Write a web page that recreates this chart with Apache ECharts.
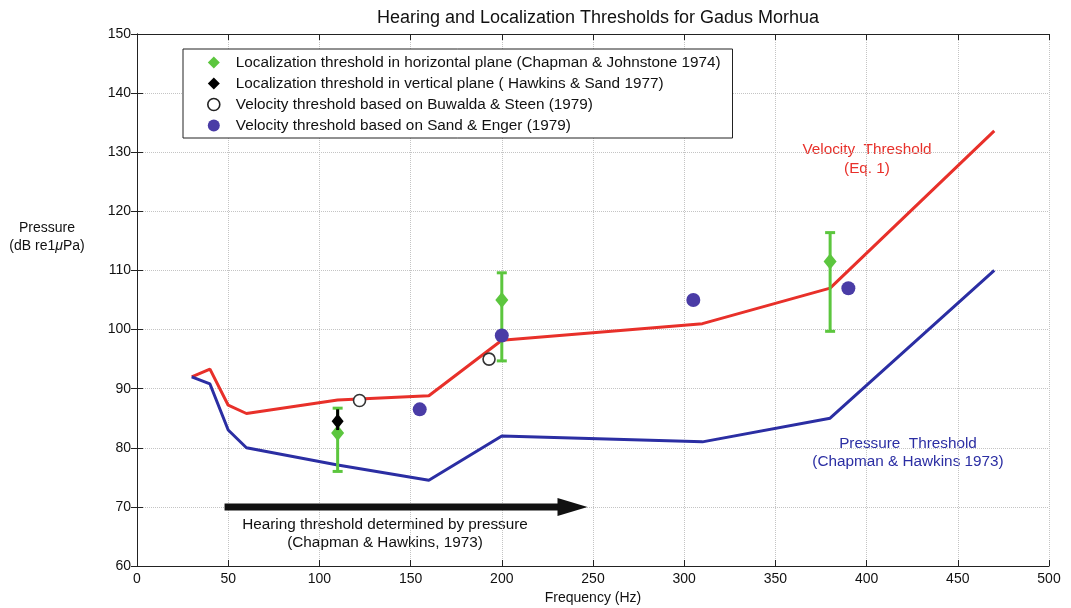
<!DOCTYPE html>
<html><head><meta charset="utf-8">
<script src="https://cdn.jsdelivr.net/npm/echarts@6/dist/echarts.min.js"></script>
<style>html,body{margin:0;padding:0;background:#fff}#c{width:1071px;height:608px}</style>
</head><body><div id="c"></div>
<script>
// ---- data ----
const freqLine = [30, 40, 50, 60, 110, 160, 200, 310, 380, 470];
const velocityThreshold = [92, 93.3, 87.2, 85.8, 88.1, 88.8, 98.2, 101, 107, 133.6];
const pressureThreshold = [92, 90.8, 83, 80, 77.1, 74.5, 82, 81, 85, 110];

const horizFreq = [110, 200, 380];
const horizValue = [82.5, 105, 111.5];
const horizLow = [76, 94.7, 99.7];
const horizHigh = [86.7, 109.6, 116.4];

const vertFreq = [110];
const vertValue = [84.5];
const vertLow = [83];
const vertHigh = [86.5];

const buwaldaFreq = [122, 193];
const buwaldaValue = [88, 95];

const sandFreq = [155, 200, 305, 390];
const sandValue = [86.5, 99, 105, 107];

const arrowFreq = [48, 247];
const arrowLevel = 70;

const xTicks = {min: 0, max: 500, interval: 50};
const yTicks = {min: 60, max: 150, interval: 10};

const names = [
  'Localization threshold in horizontal plane (Chapman & Johnstone 1974)',
  'Localization threshold in vertical plane ( Hawkins & Sand 1977)',
  'Velocity threshold based on Buwalda & Steen (1979)',
  'Velocity threshold based on Sand & Enger (1979)'
];

// ---- colours ----
const RED = '#e8302a', BLUE = '#2b2ea3', GREEN = '#5cc63e', PURPLE = '#4a3ca6';
const FONT = 'Liberation Sans, Arial, sans-serif';
const FS = 15.3;

const zip = (a, b) => a.map((v, i) => [v, b[i]]);
const zip3 = (a, b, c) => a.map((v, i) => [v, b[i], c[i]]);

function errRender(color, cap) {
  return function (params, api) {
    const x = api.value(0), lo = api.value(1), hi = api.value(2);
    const p1 = api.coord([x, lo]), p2 = api.coord([x, hi]);
    const st = {stroke: color, lineWidth: 3};
    return {type: 'group', children: [
      {type: 'line', shape: {x1: p1[0], y1: p1[1], x2: p2[0], y2: p2[1]}, style: st},
      {type: 'line', shape: {x1: p1[0] - cap, y1: p1[1], x2: p1[0] + cap, y2: p1[1]}, style: st},
      {type: 'line', shape: {x1: p2[0] - cap, y1: p2[1], x2: p2[0] + cap, y2: p2[1]}, style: st}
    ]};
  };
}

const axisCommon = {
  axisLine: {show: true, lineStyle: {color: '#222', width: 1}},
  axisTick: {show: true, inside: true, length: 6, lineStyle: {color: '#222'}},
  axisLabel: {color: '#111', fontFamily: FONT, fontSize: 14},
};

const chart = echarts.init(document.getElementById('c'));
chart.setOption({
  animation: false,
  backgroundColor: '#fff',
  title: {
    text: 'Hearing and Localization Thresholds for Gadus Morhua',
    left: 593, top: 4, textAlign: 'center',
    textStyle: {fontFamily: FONT, fontSize: 18, fontWeight: 'normal', color: '#111'}
  },
  grid: {left: 137, right: 22, top: 34, bottom: 42, containLabel: false, outerBoundsMode: 'none'},
  xAxis: [
    Object.assign({type: 'value', position: 'bottom'}, xTicks, axisCommon, {
      name: 'Frequency (Hz)', nameLocation: 'middle', nameGap: 24,
      nameTextStyle: {fontFamily: FONT, fontSize: 14, color: '#111'},
      axisLabel: {color: '#111', fontFamily: FONT, fontSize: 14, margin: 6},
      splitLine: {show: true, lineStyle: {type: 'dotted', color: '#c4c4c4', width: 1}}
    }),
    Object.assign({type: 'value', position: 'top'}, xTicks, axisCommon, {
      axisLabel: {show: false}, splitLine: {show: false}
    })
  ],
  yAxis: [
    Object.assign({type: 'value', position: 'left'}, yTicks, axisCommon, {
      axisLabel: {color: '#111', fontFamily: FONT, fontSize: 14, margin: 6},
      splitLine: {show: true, lineStyle: {type: 'dotted', color: '#c4c4c4', width: 1}}
    }),
    Object.assign({type: 'value', position: 'right'}, yTicks, axisCommon, {
      axisLabel: {show: false}, splitLine: {show: false}
    })
  ],
  legend: {
    orient: 'vertical', left: 183, top: 49,
    padding: [5, 12, 4, 24],
    itemGap: 4, itemWidth: 12, itemHeight: 12,
    borderColor: '#222', borderWidth: 1, backgroundColor: '#fff',
    textStyle: {fontFamily: FONT, fontSize: FS, color: '#111', lineHeight: 17, padding: [0, 0, 0, 11]},
    data: [
      {name: names[0], icon: 'diamond', itemStyle: {color: GREEN}},
      {name: names[1], icon: 'diamond', itemStyle: {color: '#000'}},
      {name: names[2], icon: 'circle', itemStyle: {color: '#fff', borderColor: '#222', borderWidth: 1.6}},
      {name: names[3], icon: 'circle', itemStyle: {color: PURPLE}}
    ]
  },
  graphic: [
    {type: 'text', x: 47, y: 221, style: {
      text: 'Pressure', textAlign: 'center', fontFamily: FONT, fontSize: 14, fill: '#111'}},
    {type: 'text', x: 47, y: 239, style: {
      text: '{a|(dB re1}{i|μ}{a|Pa)}', textAlign: 'center', fontFamily: FONT, fontSize: 14, fill: '#111',
      rich: {a: {fontFamily: FONT, fontSize: 14, fill: '#111'}, i: {fontFamily: FONT, fontSize: 14, fontStyle: 'italic', fill: '#111'}}}},
    {type: 'text', x: 867, y: 140, style: {
      text: 'Velocity  Threshold\n(Eq. 1)', textAlign: 'center', fontFamily: FONT, fontSize: FS, lineHeight: 19, fill: RED}},
    {type: 'text', x: 908, y: 435, style: {
      text: 'Pressure  Threshold\n(Chapman & Hawkins 1973)', textAlign: 'center', fontFamily: FONT, fontSize: FS, lineHeight: 18, fill: BLUE}},
    {type: 'text', x: 385, y: 516, style: {
      text: 'Hearing threshold determined by pressure\n(Chapman & Hawkins, 1973)', textAlign: 'center', fontFamily: FONT, fontSize: FS, lineHeight: 18, fill: '#111'}}
  ],
  series: [
    {type: 'line', name: 'Velocity Threshold', data: zip(freqLine, velocityThreshold), symbol: 'none',
      lineStyle: {color: RED, width: 3}, itemStyle: {color: RED}, z: 2},
    {type: 'line', name: 'Pressure Threshold', data: zip(freqLine, pressureThreshold), symbol: 'none',
      lineStyle: {color: BLUE, width: 3}, itemStyle: {color: BLUE}, z: 2},
    {type: 'custom', name: 'arrow', data: [[arrowFreq[0], arrowLevel, arrowFreq[1]]], z: 3,
      renderItem: function (params, api) {
        const a = api.coord([api.value(0), api.value(1)]);
        const b = api.coord([api.value(2), api.value(1)]);
        const headLen = 30, headHalf = 9;
        return {type: 'group', children: [
          {type: 'rect', shape: {x: a[0], y: a[1] - 3.5, width: b[0] - headLen - a[0] + 2, height: 7}, style: {fill: '#111'}},
          {type: 'polygon', shape: {points: [[b[0], b[1]], [b[0] - headLen, b[1] - headHalf], [b[0] - headLen, b[1] + headHalf]]}, style: {fill: '#111'}}
        ]};
      }},
    {type: 'custom', name: 'horizErr', data: zip3(horizFreq, horizLow, horizHigh), renderItem: errRender(GREEN, 5), z: 4},
    {type: 'scatter', name: names[0], data: zip(horizFreq, horizValue), symbol: 'diamond', symbolSize: [13, 16],
      itemStyle: {color: GREEN, opacity: 1}, z: 5},
    {type: 'custom', name: 'vertErr', data: zip3(vertFreq, vertLow, vertHigh), renderItem: errRender('#000', 0), z: 6},
    {type: 'scatter', name: names[1], data: zip(vertFreq, vertValue), symbol: 'diamond', symbolSize: [12, 15],
      itemStyle: {color: '#000', opacity: 1}, z: 7},
    {type: 'scatter', name: names[2], data: zip(buwaldaFreq, buwaldaValue), symbol: 'circle', symbolSize: 12,
      itemStyle: {color: '#fff', borderColor: '#333', borderWidth: 1.6, opacity: 1}, z: 7},
    {type: 'scatter', name: names[3], data: zip(sandFreq, sandValue), symbol: 'circle', symbolSize: 14,
      itemStyle: {color: PURPLE, opacity: 1}, z: 8}
  ]
});
</script></body></html>
